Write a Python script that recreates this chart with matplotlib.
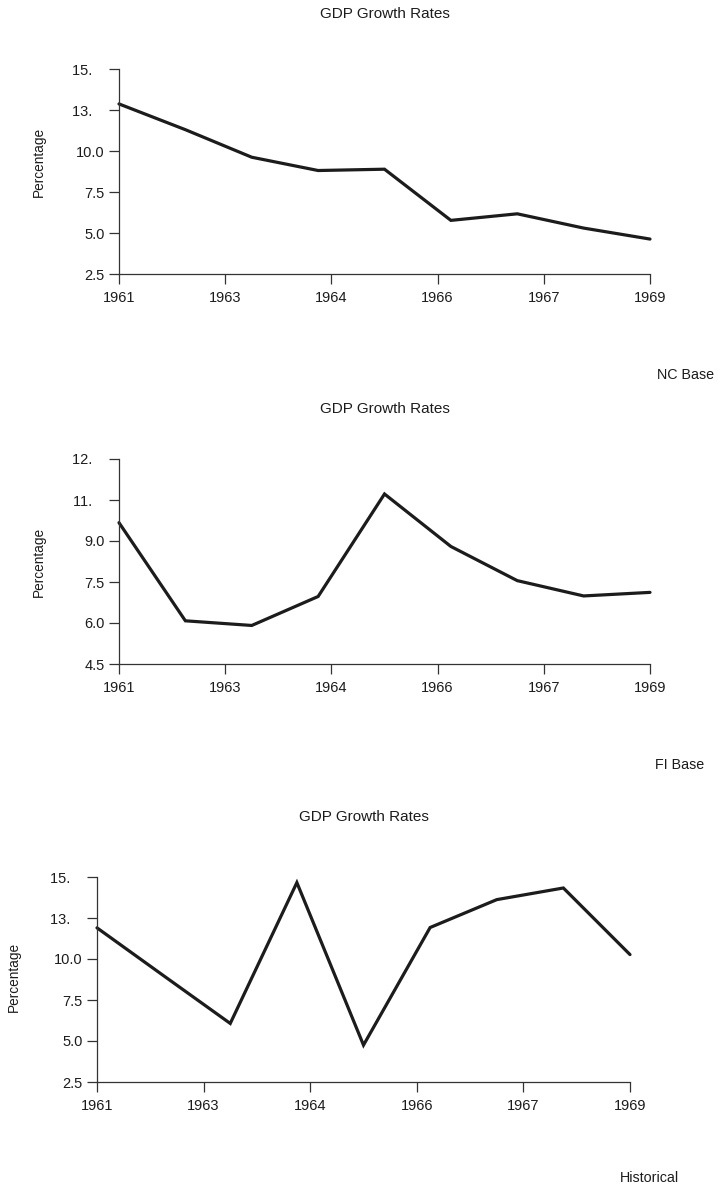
import matplotlib
matplotlib.use("Agg")
from matplotlib import pyplot as plt

plt.rcParams['font.family'] = ['Liberation Sans', 'DejaVu Sans']

W, H = 718, 1192

# one point per year, 1961..1969
years = list(range(1961, 1970))
nc_base = [12.87, 11.30, 9.62, 8.81, 8.89, 5.77, 6.17, 5.30, 4.63]
fi_base = [9.67, 6.08, 5.91, 6.97, 10.72, 8.80, 7.55, 6.99, 7.12]
historical = [11.90, 8.98, 6.07, 14.66, 4.75, 11.92, 13.62, 14.33, 10.27]

# the x axis carries six labels spread evenly over the nine years
x_tick_pos = [0, 1.6, 3.2, 4.8, 6.4, 8]
x_tick_labels = ["1961", "1963", "1964", "1966", "1967", "1969"]

y_ticks_a = [2.5, 5.0, 7.5, 10.0, 12.5, 15.0]
y_labels_a = ["2.5", "5.0", "7.5", "10.0", "13.   ", "15.   "]
y_ticks_b = [4.5, 6.0, 7.5, 9.0, 10.5, 12.0]
y_labels_b = ["4.5", "6.0", "7.5", "9.0", "11.   ", "12.   "]

panels = [
    # series, yticks, ylabels, (left, right, top, bottom) px, title y, ylabel xy, note
    (nc_base, y_ticks_a, y_labels_a, (119, 650, 69, 274), 14, (39, 162), ("NC Base", 686, 375)),
    (fi_base, y_ticks_b, y_labels_b, (119, 650, 459, 664), 409, (39, 562), ("FI Base", 680, 765)),
    (historical, y_ticks_a, y_labels_a, (97, 630, 877, 1082), 817, (14, 977), ("Historical", 649, 1178)),
]

ink = "#1c1c1c"
fig = plt.figure(figsize=(W / 100, H / 100), dpi=100)

for series, yt, yl, (l, r, t, b), ty, (lx, ly), note in panels:
    ax = fig.add_axes([l / W, 1 - b / H, (r - l) / W, (b - t) / H])
    ax.plot(range(len(years)), series, color=ink, lw=2.3, solid_joinstyle="miter",
            solid_capstyle="round", clip_on=False)
    ax.set_xlim(0, len(years) - 1)
    ax.set_ylim(yt[0], yt[-1])
    ax.set_xticks(x_tick_pos)
    ax.set_xticklabels(x_tick_labels)
    ax.set_yticks(yt)
    ax.set_yticklabels(yl)
    for s in ["top", "right"]:
        ax.spines[s].set_visible(False)
    for s in ["left", "bottom"]:
        ax.spines[s].set_color("#333333")
        ax.spines[s].set_linewidth(0.9)
    ax.tick_params(length=7.5, width=0.9, color="#333333", labelsize=10.5,
                   labelcolor=ink, pad=3)
    ax.tick_params(axis="x", pad=5)
    ax.patch.set_alpha(0)

    fig.text((l + r) / 2 / W, 1 - ty / H, "GDP Growth Rates", ha="center", va="center",
             fontsize=11, color=ink)
    fig.text(lx / W, 1 - ly / H, "Percentage", rotation=90, ha="center", va="center",
             fontsize=9.8, color=ink)
    fig.text(note[1] / W, 1 - note[2] / H, note[0], ha="center", va="center",
             fontsize=10.3, color=ink)

fig.savefig("out.png", dpi=100)
